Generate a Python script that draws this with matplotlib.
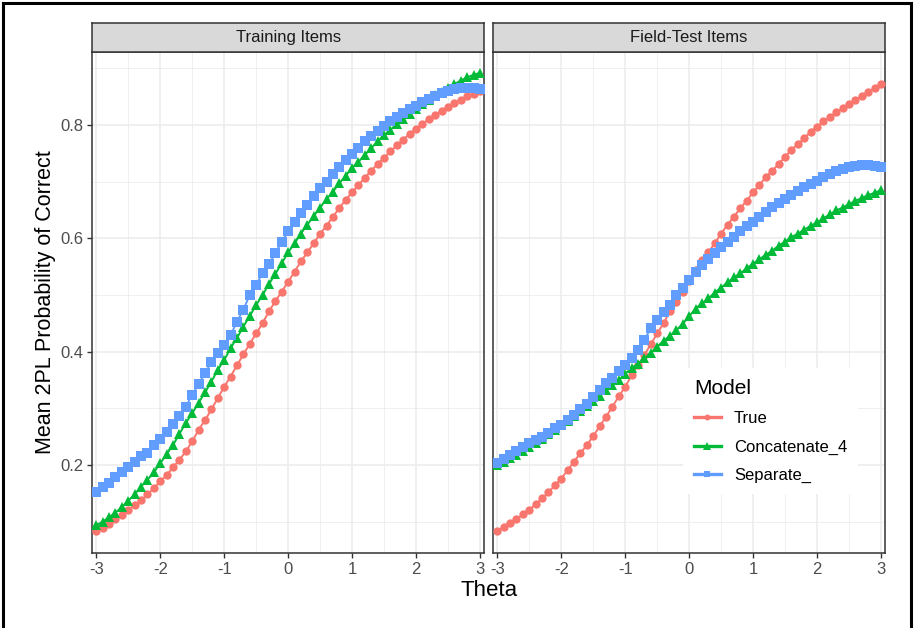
import matplotlib
matplotlib.use("Agg")
import matplotlib.pyplot as plt
from matplotlib.lines import Line2D
import numpy as np

plt.rcParams["font.family"] = ["Liberation Sans", "DejaVu Sans"]

# theta grid used for every curve (step 0.1)
THETA = np.round(np.linspace(-3, 3, 61), 1)

PANELS = ["Training Items", "Field-Test Items"]
MODELS = ["True", "Concatenate_4", "Separate_"]

# Training items
train_true = [
    0.084, 0.089, 0.096, 0.104, 0.112, 0.121, 0.129, 0.138, 0.148, 0.159,
    0.171, 0.182, 0.196, 0.209, 0.224, 0.242, 0.262, 0.279, 0.298, 0.318,
    0.338, 0.356, 0.376, 0.395, 0.414, 0.432, 0.450, 0.471, 0.489, 0.506,
    0.523, 0.541, 0.559, 0.575, 0.591, 0.608, 0.622, 0.638, 0.653, 0.668,
    0.681, 0.694, 0.707, 0.719, 0.731, 0.742, 0.753, 0.764, 0.774, 0.784,
    0.793, 0.802, 0.810, 0.818, 0.825, 0.832, 0.838, 0.844, 0.850, 0.855,
    0.859,
]
train_concat = [
    0.094, 0.100, 0.108, 0.116, 0.126, 0.137, 0.148, 0.162, 0.174, 0.187,
    0.203, 0.219, 0.235, 0.255, 0.274, 0.291, 0.310, 0.328, 0.347, 0.368,
    0.385, 0.406, 0.424, 0.444, 0.463, 0.482, 0.500, 0.519, 0.537, 0.556,
    0.575, 0.591, 0.608, 0.624, 0.639, 0.654, 0.669, 0.682, 0.697, 0.710,
    0.724, 0.735, 0.747, 0.759, 0.771, 0.782, 0.791, 0.802, 0.810, 0.819,
    0.828, 0.836, 0.844, 0.852, 0.858, 0.865, 0.872, 0.878, 0.884, 0.888,
    0.892,
]
train_sep = [
    0.152, 0.162, 0.169, 0.179, 0.187, 0.197, 0.205, 0.215, 0.222, 0.235,
    0.246, 0.259, 0.272, 0.287, 0.303, 0.324, 0.343, 0.362, 0.381, 0.397,
    0.412, 0.429, 0.453, 0.474, 0.500, 0.518, 0.538, 0.554, 0.574, 0.593,
    0.612, 0.628, 0.644, 0.659, 0.674, 0.688, 0.700, 0.713, 0.726, 0.738,
    0.749, 0.760, 0.771, 0.781, 0.790, 0.798, 0.806, 0.814, 0.821, 0.828,
    0.834, 0.840, 0.845, 0.851, 0.856, 0.860, 0.863, 0.865, 0.865, 0.865,
    0.864,
]

# Field-test items
field_true = [
    0.084, 0.091, 0.098, 0.104, 0.113, 0.121, 0.131, 0.141, 0.152, 0.164,
    0.176, 0.191, 0.206, 0.221, 0.235, 0.251, 0.268, 0.285, 0.303, 0.321,
    0.338, 0.358, 0.376, 0.394, 0.413, 0.432, 0.450, 0.471, 0.488, 0.505,
    0.524, 0.544, 0.562, 0.575, 0.591, 0.608, 0.624, 0.638, 0.653, 0.666,
    0.681, 0.694, 0.708, 0.719, 0.731, 0.744, 0.756, 0.766, 0.776, 0.788,
    0.797, 0.806, 0.814, 0.822, 0.829, 0.837, 0.844, 0.851, 0.858, 0.865,
    0.872,
]
field_concat = [
    0.200, 0.206, 0.212, 0.218, 0.224, 0.231, 0.238, 0.245, 0.254, 0.262,
    0.271, 0.278, 0.286, 0.295, 0.304, 0.313, 0.322, 0.332, 0.341, 0.350,
    0.361, 0.371, 0.379, 0.388, 0.398, 0.409, 0.419, 0.428, 0.438, 0.449,
    0.462, 0.476, 0.485, 0.494, 0.504, 0.513, 0.522, 0.531, 0.538, 0.547,
    0.555, 0.563, 0.571, 0.578, 0.587, 0.594, 0.602, 0.608, 0.615, 0.622,
    0.628, 0.635, 0.642, 0.649, 0.654, 0.660, 0.666, 0.671, 0.676, 0.680,
    0.685,
]
field_sep = [
    0.203, 0.210, 0.218, 0.225, 0.232, 0.239, 0.244, 0.250, 0.256, 0.265,
    0.271, 0.279, 0.288, 0.298, 0.307, 0.320, 0.332, 0.344, 0.353, 0.365,
    0.376, 0.388, 0.403, 0.421, 0.441, 0.456, 0.469, 0.482, 0.500, 0.513,
    0.527, 0.541, 0.553, 0.564, 0.574, 0.584, 0.594, 0.603, 0.612, 0.621,
    0.629, 0.638, 0.647, 0.655, 0.662, 0.669, 0.676, 0.684, 0.690, 0.695,
    0.701, 0.708, 0.713, 0.718, 0.722, 0.725, 0.728, 0.729, 0.729, 0.728,
    0.726,
]

SERIES = [
    [train_true, train_concat, train_sep],
    [field_true, field_concat, field_sep],
]

COLORS = ["#F8766D", "#00BA38", "#619CFF"]
MARKERS = ["o", "^", "s"]
MSIZES = [6.0, 7.8, 6.6]

W, H = 914, 628
fig = plt.figure(figsize=(W / 100, H / 100), dpi=100)
fig.patch.set_facecolor("white")


def fx(px):
    return px / W


def fy(py):
    return 1 - py / H


# outer frame (top, left, right edges)
for xs, ys in [((3, 911), (3, 3)), ((3, 3), (3, 628)), ((911, 911), (3, 628))]:
    fig.add_artist(Line2D([fx(xs[0]), fx(xs[1])], [fy(ys[0]), fy(ys[1])],
                          transform=fig.transFigure, color="black",
                          linewidth=2.2))

panel_x = [(92.3, 484.0), (493.3, 885.0)]
strip_top, strip_bot, plot_bot = 22.7, 51.7, 552.7
GRID = "#EBEBEB"
DARK = "#333333"

axes = []
for i, (x0, x1) in enumerate(panel_x):
    ax = fig.add_axes([fx(x0), fy(plot_bot), fx(x1 - x0), (plot_bot - strip_bot) / H])
    ax.set_xlim(-3.0625, 3.0625)
    ax.set_ylim(0.0453, 0.929)
    ax.set_xticks([-3, -2, -1, 0, 1, 2, 3])
    ax.set_xticks([-2.5, -1.5, -0.5, 0.5, 1.5, 2.5], minor=True)
    ax.set_yticks([0.2, 0.4, 0.6, 0.8])
    ax.set_yticks([0.1, 0.3, 0.5, 0.7, 0.9], minor=True)
    ax.grid(which="major", color=GRID, linewidth=1.1)
    ax.grid(which="minor", color=GRID, linewidth=0.55)
    ax.set_axisbelow(True)
    for sp in ax.spines.values():
        sp.set_color(DARK)
        sp.set_linewidth(1.1)
    ax.tick_params(which="major", length=3.5, width=1.0, color=DARK,
                   labelsize=12, labelcolor="#4D4D4D", pad=3)
    ax.tick_params(which="minor", length=0)
    ax.set_xticklabels(["-3", "-2", "-1", "0", "1", "2", "3"])
    if i == 0:
        ax.set_yticklabels(["0.2", "0.4", "0.6", "0.8"])
    else:
        ax.tick_params(axis="y", which="major", labelleft=False, length=0)

    for vals, col, mk, ms in zip(SERIES[i], COLORS, MARKERS, MSIZES):
        ax.plot(THETA, vals, color=col, linewidth=1.4, marker=mk,
                markersize=ms, markeredgewidth=0, zorder=3)

    # facet strip
    sax = fig.add_axes([fx(x0), fy(strip_bot), fx(x1 - x0), (strip_bot - strip_top) / H])
    sax.set_facecolor("#D9D9D9")
    sax.set_xticks([])
    sax.set_yticks([])
    for sp in sax.spines.values():
        sp.set_color(DARK)
        sp.set_linewidth(1.1)
    sax.text(0.5, 0.5, PANELS[i], ha="center", va="center", fontsize=12,
             color="#1A1A1A", transform=sax.transAxes)
    axes.append(ax)

fig.text(fx(46), fy(302), "Mean 2PL Probability of Correct", rotation=90,
         ha="center", va="center", fontsize=15.5, color="black")
fig.text(fx(489), fy(590), "Theta", ha="center", va="center", fontsize=16,
         color="black")

handles = [Line2D([0], [0], color=c, marker=m, markersize=s * 0.7,
                  markeredgewidth=0, linewidth=2.4)
           for c, m, s in zip(COLORS, MARKERS, MSIZES)]
leg = axes[1].legend(handles, MODELS, title="Model", loc="upper left",
                     bbox_to_anchor=(fx(683), fy(368)),
                     bbox_transform=fig.transFigure,
                     fontsize=12, title_fontsize=15, frameon=True,
                     fancybox=False, framealpha=1, edgecolor="none",
                     facecolor="white", handlelength=1.6, handletextpad=0.8,
                     labelspacing=0.8, borderpad=0.65, borderaxespad=0)
leg._legend_box.align = "left"
leg._legend_box._children[0].sep = 12
leg.set_zorder(5)

fig.savefig("out.png", dpi=100)
